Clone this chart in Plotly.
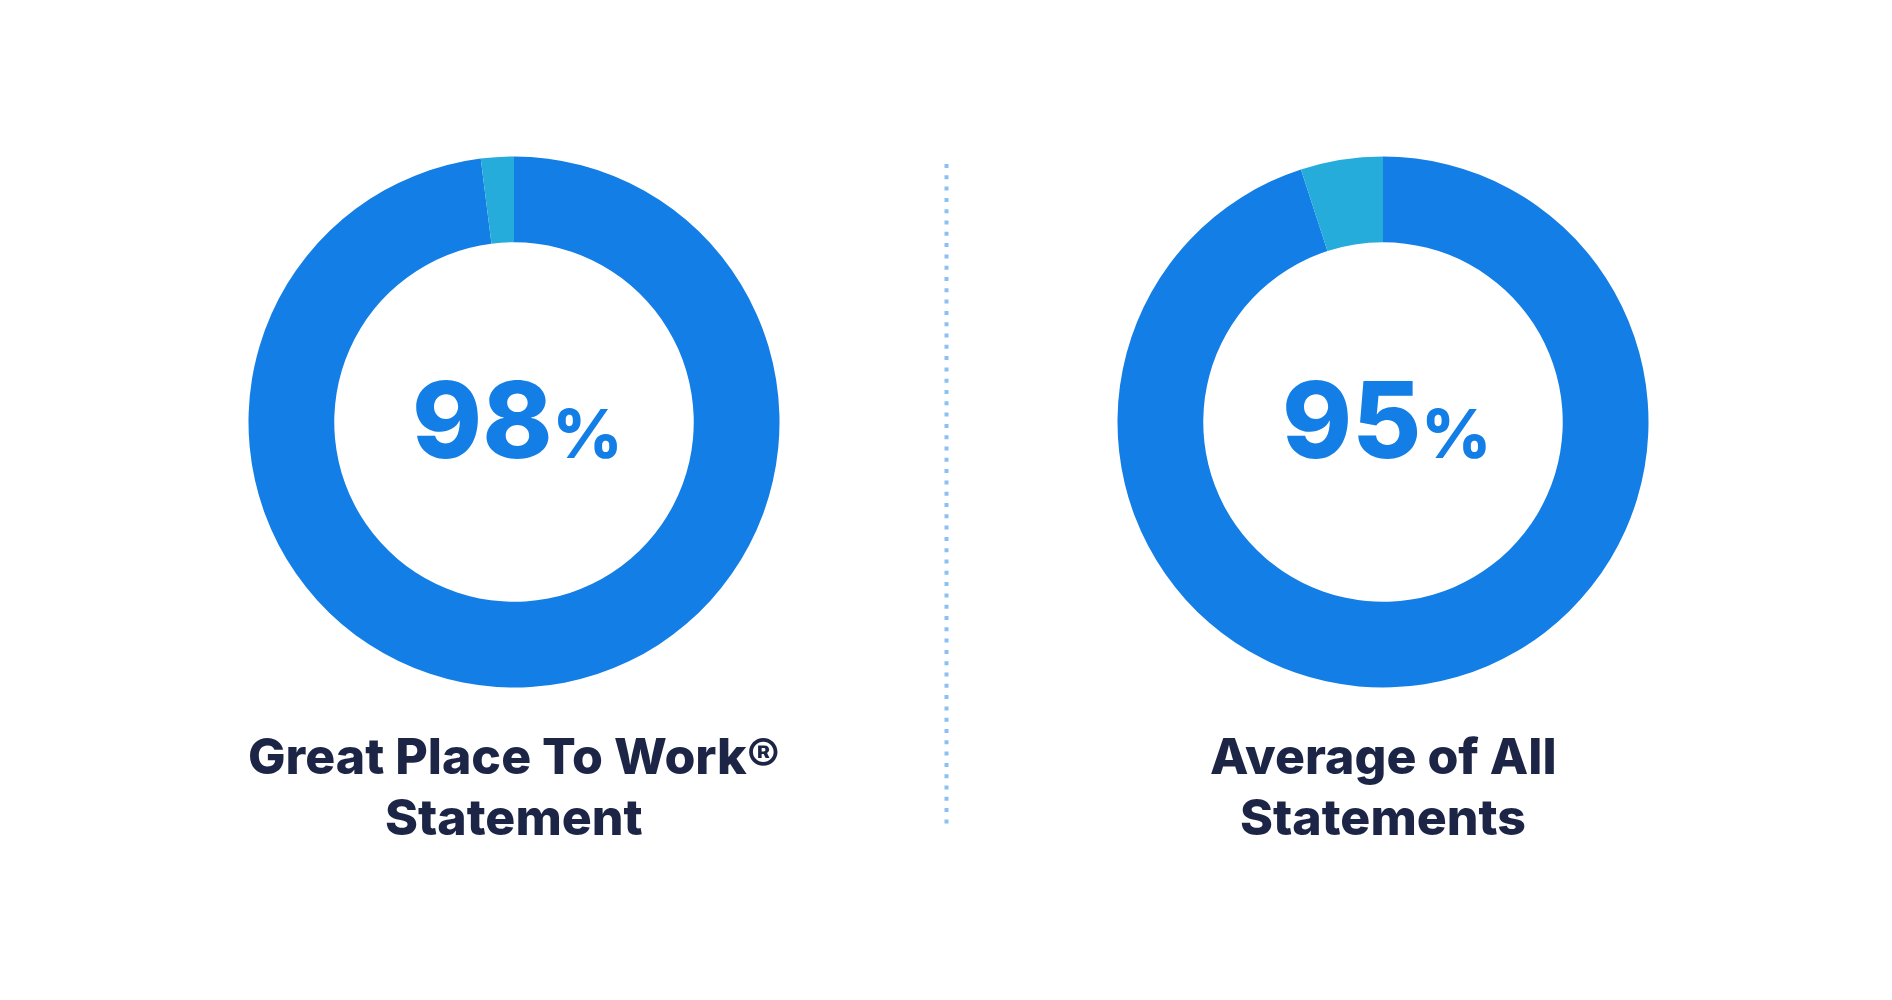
import plotly.graph_objects as go

# Data
title_lines = [["Great Place To Work®", "Statement"], ["Average of All", "Statements"]]
agree_pct = [98, 95]
other_pct = [2, 5]
slice_labels = ["Agree", "Other"]

MAIN_BLUE = "#137ee6"
LIGHT_BLUE = "#26acdb"
NAVY = "#1c2545"

# page has 8px body margin; work in page px and convert
OFF = 8
W, H = 1892 - OFF, 1000 - OFF


def px(x):
    return (x - OFF) / W


def py(y):
    return 1 - (y - OFF) / H


centers_px = [514, 1383]
cy_px = 422
r_px = 265.5

fig = go.Figure()
for i, cx in enumerate(centers_px):
    xd = [px(cx - r_px), px(cx + r_px)]
    yd = [py(cy_px + r_px), py(cy_px - r_px)]
    fig.add_trace(go.Pie(
        labels=slice_labels,
        values=[agree_pct[i], other_pct[i]],
        hole=0.677,
        sort=False,
        direction="clockwise",
        rotation=0,
        marker=dict(colors=[MAIN_BLUE, LIGHT_BLUE], line=dict(width=0)),
        textinfo="none",
        hoverinfo="label+percent",
        showlegend=False,
        domain=dict(x=xd, y=yd),
    ))
    fig.add_annotation(
        x=px(cx + 3), y=py(cy_px - 2), xref="paper", yref="paper",
        text=f"{agree_pct[i]}<span style='font-size:68px'>%</span>",
        showarrow=False, xanchor="center", yanchor="middle",
        font=dict(family="Inter", size=106, color=MAIN_BLUE, weight=800),
    )
    for j, line in enumerate(title_lines[i]):
        fig.add_annotation(
            x=px(cx), y=py(756 + j * 61), xref="paper", yref="paper",
            text=line,
            showarrow=False, xanchor="center", yanchor="middle",
            font=dict(family="Inter", size=50, color=NAVY, weight=800),
        )

fig.add_shape(
    type="line", xref="paper", yref="paper",
    x0=px(946.5), x1=px(946.5), y0=py(164), y1=py(828),
    line=dict(color="#8cc0f2", width=4, dash="4px,7.3px"),
)

fig.update_layout(
    width=W, height=H,
    margin=dict(l=0, r=0, t=0, b=0),
    paper_bgcolor="white", plot_bgcolor="white",
)
fig.write_html("out.html")
